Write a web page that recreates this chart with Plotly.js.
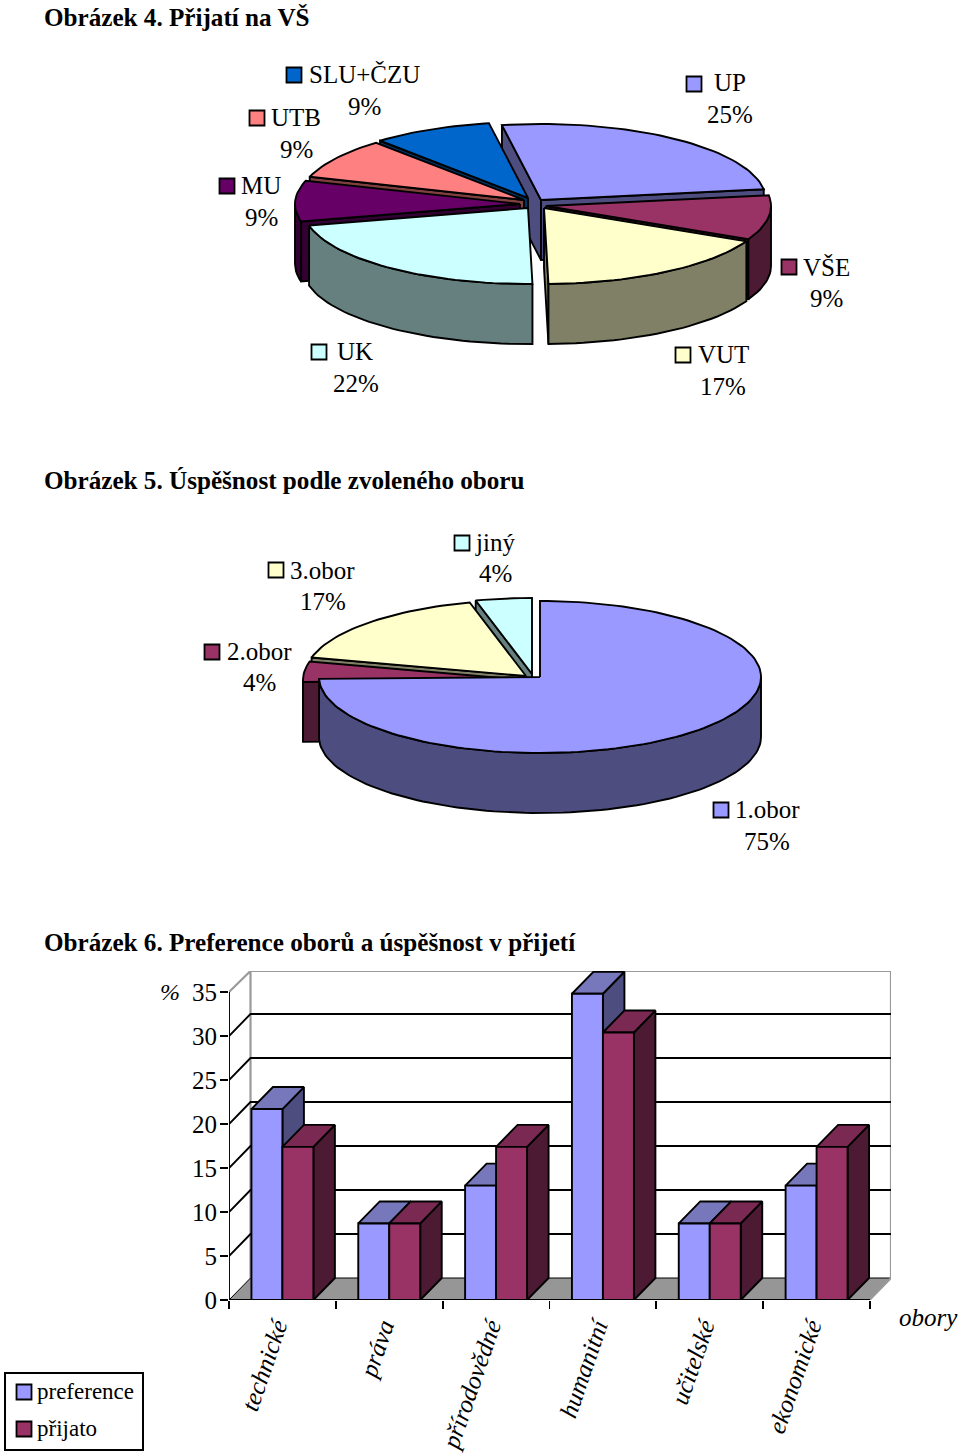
<!DOCTYPE html>
<html><head><meta charset="utf-8">
<script src="https://cdn.plot.ly/plotly-3.0.1.min.js"></script>
<style>html,body{margin:0;padding:0;background:#fff}</style></head>
<body><div id="chart" style="width:960px;height:1454px"></div>
<script>
// ---------- data ----------
const pie1Labels = ['UP','VŠE','VUT','UK','MU','UTB','SLU+ČZU'];
const pie1Values = [25.4,9.4,17.4,21.5,8.6,8.6,8.6];
const pie1Shown = [25,9,17,22,9,9,9];
const pie2Labels = ['1.obor','2.obor','3.obor','jiný'];
const pie2Values = [74.6,4.3,17,4.1];
const pie2Shown = [75,4,17,4];
const barCategories = ['technické','práva','přírodovědné','humanitní','učitelské','ekonomické'];
const seriesNames = ['preference','přijato'];
const preference = [21.7,8.7,13,34.8,8.7,13];
const prijato = [17.4,8.7,17.4,30.4,8.7,17.4];
const yTicks = [0,5,10,15,20,25,30,35];

// ---------- styles ----------
const FONT='"Liberation Serif","Times New Roman",serif';
const LW=1.9;
const pie1Colors=['#9999FF','#993366','#FFFFCC','#CCFFFF','#660066','#FF8080','#0066CC'];
const pie1Walls=['#4D4D80','#4D1A33','#808066','#668080','#330033','#804040','#003366'];
const pie1Apex=[[541,200],[546,206],[544,208],[528,208],[520,204],[524,200],[528,198]];
const pie1Order=[0,6,5,4,1,2,3];
const pie1Swatch=[[694,84],[789,267],[683,355],[319,352],[227,186],[257,118],[294,75]];
const pie1Name=[[730,83],[826,267],[723,355],[355,352],[261,186],[296,118],[364,75]];
const pie1Pct=[[730,115],[826,299],[723,387],[356,384],[261,218],[296,150],[364,107]];
const pie2Colors=['#9999FF','#993366','#FFFFCC','#CCFFFF'];
const pie2Walls=['#4D4D80','#4D1A33','#808066','#668080'];
const pie2Apex=[[540,677],[524,680],[526,676],[532,674]];
const pie2Order=[3,2,1,0];
const pie2Swatch=[[721,810],[212,652],[276,570],[462,543]];
const pie2Name=[[767,810],[259,652],[322,571],[495,543]];
const pie2Pct=[[767,842],[259,683],[323,602],[495,574]];
const barFront=['#9999FF','#993366'];

const traces=[];
const rad=d=>d*Math.PI/180;
function poly(pts,fill,xa,ya,lw){
  const c=pts.concat([pts[0]]);
  traces.push({type:'scatter',mode:'lines',x:c.map(p=>p[0]),y:c.map(p=>p[1]),xaxis:xa,yaxis:ya,
    fill:'toself',fillcolor:fill,line:{color:'#000',width:lw||LW},hoverinfo:'skip',showlegend:false,cliponaxis:false});
}
function pie(values,start,apex,colors,walls,order,rx,ry,depth){
  const total=values.reduce((a,b)=>a+b,0);
  let acc=start; const ranges=values.map(v=>{const a=acc;acc+=v/total*360;return [a,acc];});
  order.forEach(i=>{
    const [a,b]=ranges[i],[ax,ay]=apex[i];
    const pt=(t,d)=>[ax+rx*Math.sin(rad(t)),ay-ry*Math.cos(rad(t))+(d||0)];
    const face=t=>poly([[ax,ay],pt(t),pt(t,depth),[ax,ay+depth]],walls[i],'x3','y3');
    if(Math.sin(rad(a))<0) face(a);
    if(Math.sin(rad(b))>0) face(b);
    const wa=Math.max(a,90),wb=Math.min(b,270);
    if(wb>wa){
      const top=[],bot=[];
      for(let t=wa;t<wb;t+=2){top.push(pt(t));bot.push(pt(t,depth));}
      top.push(pt(wb));bot.push(pt(wb,depth));
      poly(top.concat(bot.reverse()),walls[i],'x3','y3');
    }
    const arc=[[ax,ay]];
    for(let t=a;t<b;t+=2)arc.push(pt(t));
    arc.push(pt(b));
    poly(arc,colors[i],'x3','y3');
  });
}
pie(pie1Values,-10,pie1Apex,pie1Colors,pie1Walls,pie1Order,225,76,60);
pie(pie2Values,0,pie2Apex,pie2Colors,pie2Walls,pie2Order,221,76,60);

// ---------- 3D bars ----------
const CAT=641/6, UNIT=8.8;
const dX=21.5/CAT, dY=22/UNIT, W=0.29, xMin=-0.5, xMax=-0.5+662/CAT, yMax=329/UNIT;
const GREY='#9A9A9A';
poly([[xMin,0],[xMin+dX,dY],[xMax,dY],[xMax-dX,0]],'#969696','x','y',1);
traces.push({type:'scatter',mode:'lines',x:[xMin,xMin+dX,xMin+dX,xMin+dX,xMax,xMax,xMax-dX],y:[35,yMax,dY,yMax,yMax,dY,0],
  line:{color:GREY,width:2.2},hoverinfo:'skip',showlegend:false,cliponaxis:false});
const gx=[],gy=[];
yTicks.forEach(v=>{ if(v>0&&v<35){gx.push(xMin,xMin+dX,xMax,null);gy.push(v,v+dY,v+dY,null);} });
traces.push({type:'scatter',mode:'lines',x:gx,y:gy,line:{color:'#000',width:LW},hoverinfo:'skip',showlegend:false,cliponaxis:false});
traces.push({type:'scatter',mode:'lines',x:[xMin,xMin,null,xMin,xMin+6],y:[0,35,null,0,0],line:{color:'#000',width:LW},hoverinfo:'skip',showlegend:false,cliponaxis:false});
function sides(vals,off,sideC,topC){
  vals.forEach((v,i)=>{
    const l=i+off,r=l+W;
    poly([[r,0],[r+dX,dY],[r+dX,v+dY],[r,v]],sideC,'x','y');
    poly([[l,v],[r,v],[r+dX,v+dY],[l+dX,v+dY]],topC,'x','y');
  });
}
sides(preference,-W,'#4D4D80','#7777BB');
sides(prijato,0,'#4D1A33','#7A2952');
const idx=barCategories.map((c,i)=>i);
traces.push({type:'bar',name:seriesNames[0],x:idx,y:preference,xaxis:'x2',yaxis:'y2',
  marker:{color:barFront[0],line:{color:'#000',width:LW}},hoverinfo:'skip',showlegend:false});
traces.push({type:'bar',name:seriesNames[1],x:idx,y:prijato,xaxis:'x2',yaxis:'y2',
  marker:{color:barFront[1],line:{color:'#000',width:LW}},hoverinfo:'skip',showlegend:false});

// ---------- labels ----------
const anns=[];
function txt(s,p,size,opts){
  const left=opts&&opts.xanchor==='left';
  anns.push(Object.assign({text:s,x:p[0]-(left?2:0),y:p[1]-0.5,xref:'x3',yref:'y3',showarrow:false,
  xanchor:'center',yanchor:'middle',font:{family:FONT,size:size,color:'#000'}},opts||{}));}
function swatches(sw,colors,size){
  traces.push({type:'scatter',mode:'markers',x:sw.map(p=>p[0]),y:sw.map(p=>p[1]),xaxis:'x3',yaxis:'y3',
    marker:{symbol:'square',size:size,color:colors,line:{color:'#000',width:1.8}},hoverinfo:'skip',showlegend:false});
}
function labels(names,vals,sw,nm,pc,colors){
  swatches(sw,colors,15);
  names.forEach((n,i)=>{txt(n,nm[i],25);txt(vals[i]+'%',pc[i],25);});
}
labels(pie1Labels,pie1Shown,pie1Swatch,pie1Name,pie1Pct,pie1Colors);
labels(pie2Labels,pie2Shown,pie2Swatch,pie2Name,pie2Pct,pie2Colors);
txt('<b>Obrázek 4. Přijatí na VŠ</b>',[44,18],25.15,{xanchor:'left'});
txt('<b>Obrázek 5. Úspěšnost podle zvoleného oboru</b>',[44,481],25.15,{xanchor:'left'});
txt('<b>Obrázek 6. Preference oborů a úspěšnost v přijetí</b>',[44,943],25.15,{xanchor:'left'});
txt('<i>%</i>',[170,992],24);
txt('<i>obory</i>',[928,1318],25);
swatches([[24,1392],[24,1429]],barFront,15);
txt(seriesNames[0],[37,1392],23,{xanchor:'left'});
txt(seriesNames[1],[37,1429],23,{xanchor:'left'});

const xDom=[229/960,891/960], yDom=[(1454-1300)/1454,(1454-971)/1454];
const layout={
  width:960,height:1454,autosize:false,margin:{l:0,r:0,t:0,b:0,pad:0},
  paper_bgcolor:'#fff',plot_bgcolor:'rgba(0,0,0,0)',
  barmode:'group',bargap:0.42,bargroupgap:0,
  font:{family:FONT,color:'#000'},
  xaxis:{domain:xDom,range:[xMin,xMax],type:'linear',tickmode:'array',tickvals:[-0.5,0.5,1.5,2.5,3.5,4.5,5.5],
    showticklabels:false,ticks:'outside',ticklen:8,tickwidth:LW,tickcolor:'#000',showgrid:false,zeroline:false,showline:false,anchor:'y',fixedrange:true},
  yaxis:{domain:yDom,range:[0,yMax],tickmode:'array',tickvals:yTicks,ticks:'outside',ticklen:8,tickwidth:LW,tickcolor:'#000',
    tickfont:{family:FONT,size:25,color:'#000'},ticklabelstandoff:-2,showgrid:false,zeroline:false,showline:false,anchor:'x',fixedrange:true},
  xaxis2:{overlaying:'x',range:[xMin,xMax],type:'linear',tickmode:'array',tickvals:idx.map(i=>i-0.06),ticktext:barCategories,
    tickangle:-71,tickfont:{family:FONT,size:25,color:'#000',style:'italic'},ticks:'',ticklabelstandoff:6,
    showgrid:false,zeroline:false,showline:false,anchor:'y2',fixedrange:true},
  yaxis2:{overlaying:'y',range:[0,yMax],showticklabels:false,ticks:'',showgrid:false,zeroline:false,showline:false,anchor:'x2',fixedrange:true},
  xaxis3:{domain:[0,1],range:[0,960],visible:false,fixedrange:true,anchor:'y3'},
  yaxis3:{domain:[0,1],range:[1454,0],visible:false,fixedrange:true,anchor:'x3'},
  annotations:anns,
  shapes:[{type:'rect',xref:'paper',yref:'paper',x0:5/960,x1:143/960,y0:(1454-1450)/1454,y1:(1454-1373)/1454,
    line:{color:'#000',width:2},fillcolor:'rgba(0,0,0,0)',layer:'below'}],
  showlegend:false
};
Plotly.newPlot('chart',traces,layout,{displayModeBar:false,staticPlot:true});
</script></body></html>
